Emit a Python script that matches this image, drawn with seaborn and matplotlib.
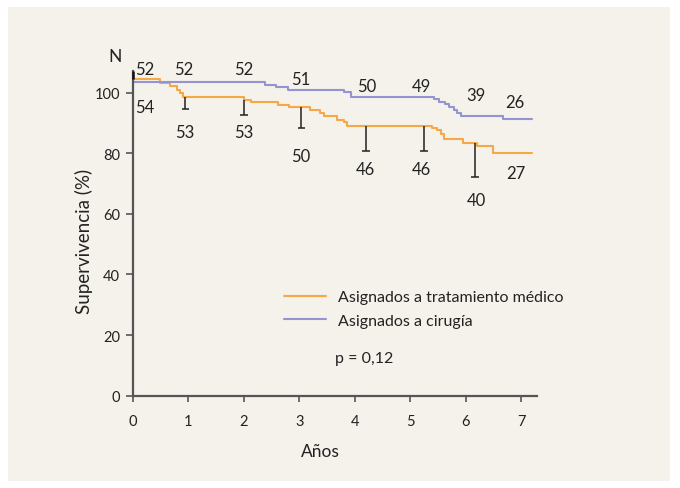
import numpy as np
import pandas as pd
import matplotlib
matplotlib.use("Agg")
import matplotlib.pyplot as plt
from matplotlib.patches import Rectangle
import seaborn as sns

# ---- data ----
med_label = "Asignados a tratamiento médico"
cir_label = "Asignados a cirugía"

med_t = [0, 0.50, 0.67, 0.80, 0.85, 0.90, 2.00, 2.13, 2.62, 2.82, 3.19, 3.37, 3.45,
         3.69, 3.80, 3.86, 5.39, 5.49, 5.55, 5.61, 5.95, 6.20, 6.50, 7.19]
med_s = [104.5, 103.1, 102.1, 100.7, 99.8, 98.6, 97.6, 97.0, 96.0, 95.2, 94.4, 93.3, 92.1,
         91.0, 90.2, 88.9, 88.3, 87.6, 86.4, 84.7, 83.5, 82.3, 80.2, 80.2]

cir_t = [0, 2.38, 2.59, 2.79, 3.80, 3.93, 5.43, 5.52, 5.63, 5.70, 5.79, 5.85, 5.91, 6.68, 7.19]
cir_s = [103.6, 102.6, 101.7, 100.9, 100.1, 98.6, 97.9, 97.0, 96.1, 95.3, 94.3, 93.3, 92.4, 91.2, 91.2]

err_x = [0.95, 2.00, 3.04, 4.20, 5.25, 6.17]
err_hi = [98.6, 97.6, 95.2, 88.9, 88.9, 83.5]
err_lo = [94.6, 92.7, 88.3, 80.6, 80.6, 72.2]

up_err_x = [0.0]
up_err_lo = [104.5]
up_err_hi = [107.2]

n_cir = ["52", "52", "52", "51", "50", "49", "39", "26"]
n_cir_x = [0.22, 0.92, 2.00, 3.02, 4.22, 5.20, 6.19, 6.89]
n_cir_y = [107.8, 107.8, 107.8, 104.5, 102.2, 102.2, 99.2, 96.9]

n_med = ["54", "53", "53", "50", "46", "46", "40", "27"]
n_med_x = [0.22, 0.94, 2.00, 3.03, 4.20, 5.20, 6.19, 6.90]
n_med_y = [95.3, 87.0, 87.0, 79.1, 74.8, 74.8, 64.6, 73.5]

x_ticks = [0, 1, 2, 3, 4, 5, 6, 7]
y_ticks = [0, 20, 40, 60, 80, 100]

# ---- style ----
sns.set_style("ticks")
plt.rcParams['font.family'] = ['Lato', 'DejaVu Sans']

bg = "#f5f2eb"
orange = "#f5a845"
purple = "#9494d2"
spine = "#555555"

W, H = 680, 489
fig = plt.figure(figsize=(W / 100, H / 100), dpi=100)
fig.patch.set_facecolor("white")
fig.patches.append(Rectangle((8 / W, 1 - 482 / H), (670 - 8) / W, (482 - 8) / H,
                             transform=fig.transFigure, facecolor=bg, edgecolor="none", zorder=-10))

ax = fig.add_axes([132.7 / W, 1 - 396.7 / H, (536.7 - 132.7) / W, (396.7 - 72.3) / H])
ax.set_facecolor("none")

df = pd.concat([
    pd.DataFrame({"t": med_t, "s": med_s, "g": med_label}),
    pd.DataFrame({"t": cir_t, "s": cir_s, "g": cir_label}),
])
sns.lineplot(data=df, x="t", y="s", hue="g", hue_order=[med_label, cir_label],
             palette=[orange, purple], estimator=None, drawstyle="steps-post",
             linewidth=1.5, ax=ax, legend=True)

# error bars (lower half)
ax.vlines(err_x, err_lo, err_hi, color="#222222", linewidth=1.1, zorder=3)
ax.hlines(err_lo, np.array(err_x) - 0.07, np.array(err_x) + 0.07, color="#222222",
          linewidth=1.1, zorder=3)
ax.vlines(up_err_x, up_err_lo, up_err_hi, color="#111111", linewidth=1.8, zorder=4,
          clip_on=False)

for lab, x, y in zip(n_cir, n_cir_x, n_cir_y):
    ax.text(x, y, lab, ha="center", va="center", fontsize=12, color="#222222", clip_on=False)
for lab, x, y in zip(n_med, n_med_x, n_med_y):
    ax.text(x, y, lab, ha="center", va="center", fontsize=12, color="#222222", clip_on=False)

ax.set_xlim(0, 7.28)
ax.set_ylim(0, 107)
ax.set_xticks(x_ticks)
ax.set_yticks(y_ticks)
ax.set_xticklabels([str(v) for v in x_ticks])
ax.set_yticklabels([str(v) for v in y_ticks])
ax.tick_params(axis="x", length=4, width=1.2, pad=9, colors=spine, labelcolor="#222222", labelsize=10.5)
ax.tick_params(axis="y", length=5, width=1.2, pad=4, colors=spine, labelcolor="#222222", labelsize=10.5)
for side in ["top", "right"]:
    ax.spines[side].set_visible(False)
for side in ["left", "bottom"]:
    ax.spines[side].set_color(spine)
    ax.spines[side].set_linewidth(1.6)
ax.set_xlabel("")
ax.set_ylabel("")

leg = ax.legend(loc="center left", bbox_to_anchor=(284 / W, 1 - 310 / H),
                bbox_transform=fig.transFigure, frameon=False, fontsize=11.5,
                handlelength=2.6, handletextpad=0.75, labelspacing=0.6,
                borderpad=0, borderaxespad=0)
for t in leg.get_texts():
    t.set_color("#222222")

fig.text(335 / W, 1 - 359 / H, "p = 0,12", ha="left", va="center", fontsize=11.5, color="#222222")
fig.text(115 / W, 1 - 57 / H, "N", ha="center", va="center", fontsize=12.5, color="#222222")
fig.text(84 / W, 1 - 241 / H, "Supervivencia (%)", ha="center", va="center", rotation=90,
         fontsize=13.5, color="#222222")
fig.text(320 / W, 1 - 452 / H, "Años", ha="center", va="center", fontsize=12.5, color="#222222")

fig.savefig("out.png", dpi=100, facecolor=fig.get_facecolor())
